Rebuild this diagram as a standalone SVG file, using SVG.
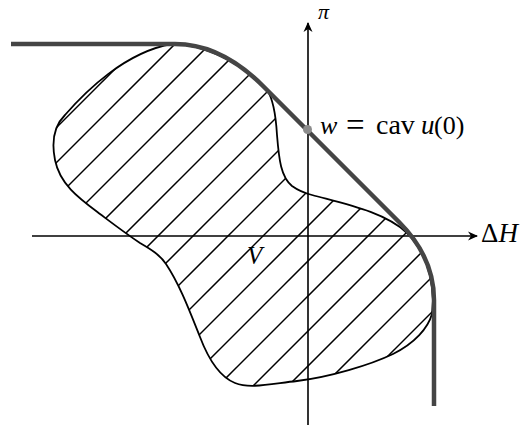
<svg xmlns="http://www.w3.org/2000/svg" width="524" height="428" viewBox="0 0 524 428">
  <style>
    .hatch { stroke: #000; stroke-width: 1.5; fill: none; }
    .blob { stroke: #000; stroke-width: 1.8; fill: none; stroke-linejoin: round; }
    .axis { stroke: #000; stroke-width: 1.6; fill: none; }
    .env { stroke: #454545; stroke-width: 4.5; fill: none; stroke-linejoin: round; }
    .lbl { font-family: "Liberation Serif", "DejaVu Serif", serif; fill: #000; }
    .it { font-style: italic; }
  </style>
  <defs>
    <clipPath id="blobClip">
      <path id="blobShape" d="M 172,44 C 205,44 240,62 267,90 C 274,100 276,118 277,135 C 279,160 281,177 292,186 C 299,191 304,193 312,195 C 345,204 385,212 407,233 C 422,248 432,270 433,300 L 432,314 C 428,328 415,343 393,354 C 370,365 330,377 297,381 C 270,384 250,389 235,383 C 220,377 208,358 200,337 C 190,312 180,285 166,264 C 160,255 152,250 140,243 C 125,233 112,223 100,214 C 80,199 60,185 55,160 C 51,140 55,125 65,115 C 85,92 125,52 172,44 Z"/>
    </clipPath>
    <marker id="arr" markerUnits="userSpaceOnUse" markerWidth="14" markerHeight="12" viewBox="-11 -6 14 12" refX="0" refY="0" orient="auto">
      <path d="M 1,0 L -9,-4.5 L -6,0 L -9,4.5 Z" fill="#000"/>
    </marker>
  </defs>

  <g id="hatching" clip-path="url(#blobClip)">
    <line class="hatch" x1="0" y1="184" x2="184" y2="0"/>
    <line class="hatch" x1="0" y1="219" x2="219" y2="0"/>
    <line class="hatch" x1="0" y1="254" x2="254" y2="0"/>
    <line class="hatch" x1="0" y1="289" x2="289" y2="0"/>
    <line class="hatch" x1="0" y1="324" x2="324" y2="0"/>
    <line class="hatch" x1="0" y1="359" x2="359" y2="0"/>
    <line class="hatch" x1="0" y1="394" x2="394" y2="0"/>
    <line class="hatch" x1="0" y1="429" x2="429" y2="0"/>
    <line class="hatch" x1="0" y1="464" x2="464" y2="0"/>
    <line class="hatch" x1="0" y1="499" x2="499" y2="0"/>
    <line class="hatch" x1="0" y1="534" x2="534" y2="0"/>
    <line class="hatch" x1="0" y1="569" x2="569" y2="0"/>
    <line class="hatch" x1="0" y1="604" x2="604" y2="0"/>
    <line class="hatch" x1="0" y1="639" x2="639" y2="0"/>
    <line class="hatch" x1="0" y1="674" x2="674" y2="0"/>
    <line class="hatch" x1="0" y1="709" x2="709" y2="0"/>
    <line class="hatch" x1="0" y1="744" x2="744" y2="0"/>
  </g>

  <g id="set-V">
    <use href="#blobShape" class="blob"/>
  </g>

  <g id="axes">
    <line id="axis-pi" class="axis" x1="308" y1="425" x2="308" y2="23" marker-end="url(#arr)"/>
    <line id="axis-dH" class="axis" x1="32" y1="236" x2="477" y2="236" marker-end="url(#arr)"/>
  </g>

  <g id="envelope">
    <path class="env" d="M 11,44 H 175 C 210,44 240,63 263,86 L 399,222 C 420,243 434,268 434,300 V 406"/>
  </g>

  <g id="point-w">
    <circle cx="307.5" cy="129.5" r="4.5" fill="#8c8c8c"/>
  </g>

  <g id="labels">
    <text class="lbl it" x="318" y="19" font-size="22">π</text>
    <text class="lbl" x="481" y="242" font-size="27">Δ<tspan class="it">H</tspan></text>
    <text class="lbl it" x="247" y="264" font-size="25">V</text>
    <g id="label-w">
      <text class="lbl it" x="320" y="134" font-size="26">w</text>
      <text class="lbl" x="346" y="136" font-size="33">=</text>
      <text class="lbl" x="376" y="134" font-size="28">cav</text>
      <text class="lbl it" x="421" y="134" font-size="27">u</text>
      <text class="lbl" x="434" y="134" font-size="26">(0)</text>
    </g>
  </g>
</svg>
